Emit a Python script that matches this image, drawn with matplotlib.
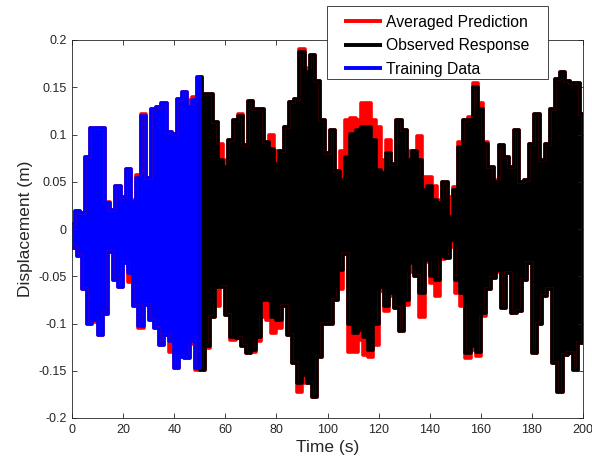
import numpy as np
import matplotlib
matplotlib.use("Agg")
import matplotlib.pyplot as plt
from matplotlib.patches import Rectangle

plt.rcParams["font.family"] = ["Liberation Sans", "DejaVu Sans"]
plt.rcParams["axes.unicode_minus"] = False

# envelope of the oscillation:
# highs centred on t = 0, 2, ..., 200 s, lows centred on t = 1, 3, ..., 199 s
obs_hi = [0.005, 0.019, 0.017, 0.076, 0.107, 0.107, 0.107, 0.027, 0.020, 0.046,
          0.034, 0.064, 0.029, 0.054, 0.120, 0.054, 0.127, 0.129, 0.133, 0.103,
          0.101, 0.138, 0.145, 0.129, 0.136, 0.161, 0.143, 0.143, 0.113, 0.073,
          0.066, 0.094, 0.115, 0.120, 0.089, 0.135, 0.127, 0.127, 0.092, 0.085,
          0.069, 0.083, 0.108, 0.134, 0.138, 0.187, 0.166, 0.184, 0.157, 0.115,
          0.080, 0.105, 0.061, 0.052, 0.076, 0.101, 0.105, 0.108, 0.108, 0.094,
          0.062, 0.059, 0.080, 0.069, 0.115, 0.105, 0.073, 0.083, 0.073, 0.041,
          0.045, 0.031, 0.027, 0.050, 0.013, 0.041, 0.087, 0.115, 0.115, 0.150,
          0.127, 0.090, 0.066, 0.050, 0.089, 0.076, 0.066, 0.105, 0.050, 0.052,
          0.090, 0.122, 0.073, 0.090, 0.127, 0.159, 0.166, 0.157, 0.154, 0.154,
          0.122]
obs_lo = [-0.020, -0.029, -0.063, -0.100, -0.096, -0.112, -0.090, -0.024, -0.054, -0.061,
          -0.036, -0.047, -0.082, -0.103, -0.080, -0.096, -0.105, -0.123, -0.112, -0.118,
          -0.147, -0.135, -0.137, -0.119, -0.147, -0.149, -0.124, -0.093, -0.061, -0.061,
          -0.091, -0.114, -0.115, -0.124, -0.131, -0.128, -0.114, -0.075, -0.075, -0.093,
          -0.096, -0.082, -0.112, -0.142, -0.163, -0.154, -0.163, -0.178, -0.135, -0.100,
          -0.100, -0.075, -0.043, -0.026, -0.100, -0.110, -0.107, -0.114, -0.128, -0.100,
          -0.061, -0.082, -0.068, -0.084, -0.108, -0.075, -0.036, -0.050, -0.068, -0.033,
          -0.050, -0.054, -0.029, -0.031, -0.012, -0.054, -0.068, -0.131, -0.124, -0.130,
          -0.089, -0.064, -0.052, -0.043, -0.084, -0.047, -0.089, -0.087, -0.054, -0.036,
          -0.131, -0.100, -0.071, -0.064, -0.142, -0.172, -0.133, -0.131, -0.149, -0.121]

pred_hi = [0.005, 0.019, 0.017, 0.076, 0.107, 0.107, 0.107, 0.029, 0.020, 0.046,
           0.034, 0.064, 0.031, 0.057, 0.122, 0.054, 0.127, 0.129, 0.133, 0.103,
           0.101, 0.138, 0.145, 0.136, 0.140, 0.161, 0.143, 0.143, 0.113, 0.090,
           0.073, 0.094, 0.115, 0.122, 0.089, 0.135, 0.127, 0.127, 0.092, 0.099,
           0.083, 0.083, 0.108, 0.134, 0.138, 0.190, 0.170, 0.184, 0.157, 0.115,
           0.080, 0.105, 0.061, 0.083, 0.115, 0.117, 0.115, 0.133, 0.133, 0.115,
           0.108, 0.073, 0.094, 0.069, 0.115, 0.105, 0.083, 0.083, 0.098, 0.055,
           0.055, 0.046, 0.031, 0.050, 0.034, 0.044, 0.092, 0.115, 0.118, 0.155,
           0.133, 0.092, 0.066, 0.052, 0.089, 0.076, 0.066, 0.105, 0.050, 0.052,
           0.090, 0.122, 0.073, 0.090, 0.127, 0.159, 0.166, 0.157, 0.154, 0.154,
           0.122]
pred_lo = [-0.020, -0.029, -0.063, -0.100, -0.098, -0.112, -0.090, -0.024, -0.054, -0.061,
           -0.036, -0.056, -0.082, -0.105, -0.080, -0.096, -0.105, -0.123, -0.112, -0.130,
           -0.147, -0.135, -0.137, -0.122, -0.149, -0.149, -0.126, -0.093, -0.082, -0.061,
           -0.091, -0.117, -0.115, -0.124, -0.131, -0.130, -0.119, -0.093, -0.096, -0.110,
           -0.105, -0.082, -0.112, -0.142, -0.172, -0.163, -0.163, -0.178, -0.135, -0.100,
           -0.100, -0.075, -0.064, -0.026, -0.130, -0.130, -0.117, -0.133, -0.135, -0.123,
           -0.066, -0.087, -0.071, -0.084, -0.108, -0.080, -0.045, -0.050, -0.093, -0.035,
           -0.057, -0.071, -0.032, -0.031, -0.019, -0.068, -0.082, -0.137, -0.128, -0.134,
           -0.092, -0.064, -0.052, -0.046, -0.084, -0.047, -0.089, -0.087, -0.054, -0.036,
           -0.131, -0.100, -0.071, -0.064, -0.142, -0.172, -0.133, -0.131, -0.149, -0.121]

STEP = 2          # s between successive highs (and lows)
T_END = 200       # s
TRAIN_END = 50    # s
x_ticks = [0, 20, 40, 60, 80, 100, 120, 140, 160, 180, 200]
y_ticks = [-0.2, -0.15, -0.1, -0.05, 0, 0.05, 0.1, 0.15, 0.2]
y_tick_labels = ["-0.2", "-0.15", "-0.1", "-0.05", "0", "0.05", "0.1", "0.15", "0.2"]


def band(hi, lo, t0, t1):
    # outline of the filled oscillation between t0 and t1
    ux, uy, lx, ly = [], [], [], []
    for k, v in enumerate(hi):
        a, b = max(STEP * k - STEP / 2, t0), min(STEP * k + STEP / 2, t1)
        if a < b:
            ux += [a, b]
            uy += [v, v]
    for k, v in enumerate(lo):
        a, b = max(STEP * k, t0), min(STEP * k + STEP, t1)
        if a < b:
            lx += [a, b]
            ly += [v, v]
    x = ux + lx[::-1] + ux[:1]
    y = uy + ly[::-1] + uy[:1]
    return np.array(x), np.array(y)


fig = plt.figure(figsize=(5.92, 4.68), dpi=100)
ax = fig.add_axes([72 / 592, 50 / 468, 511 / 592, 378 / 468])

lw = 2.6
series = [
    (pred_hi, pred_lo, 0, T_END, "red", "Averaged Prediction"),
    (obs_hi, obs_lo, TRAIN_END, T_END, "black", "Observed Response"),
    (obs_hi, obs_lo, 0, TRAIN_END, "blue", "Training Data"),
]
for hi, lo, t0, t1, c, name in series:
    x, y = band(hi, lo, t0, t1)
    ax.fill(x, y, color=c, lw=0)
    ax.plot(x, y, color=c, lw=lw, solid_joinstyle="round", solid_capstyle="round",
            label=name)

ax.set_xlim(0, 200)
ax.set_ylim(-0.2, 0.2)
ax.set_xticks(x_ticks)
ax.set_yticks(y_ticks)
ax.set_yticklabels(y_tick_labels)
ax.tick_params(direction="in", top=True, right=True, length=3.5, width=0.6,
               labelsize=9, colors="#262626", pad=4)
for s in ax.spines.values():
    s.set_color("#262626")
    s.set_linewidth(0.6)

ax.set_xlabel("Time (s)", fontsize=12.5, color="#262626", labelpad=3)
ax.set_ylabel("Displacement (m)", fontsize=12.5, color="#262626", labelpad=4)

# legend box sits partly above the axes
box = Rectangle((327 / 592, 1 - 79 / 468), 221 / 592, 73 / 468, transform=fig.transFigure,
                facecolor="white", edgecolor="#262626", lw=0.6, zorder=5)
fig.patches.append(box)
leg = fig.legend(loc="upper left", bbox_to_anchor=(344 / 592, 1 - 14.5 / 468),
                 fontsize=11.3, frameon=False, borderaxespad=0, borderpad=0,
                 handlelength=2.45, handletextpad=0.25, labelspacing=0.55)
leg.set_zorder(6)
for line in leg.get_lines():
    line.set_linewidth(2.8)
    line.set_solid_capstyle("butt")

fig.savefig("out.png", dpi=100)
